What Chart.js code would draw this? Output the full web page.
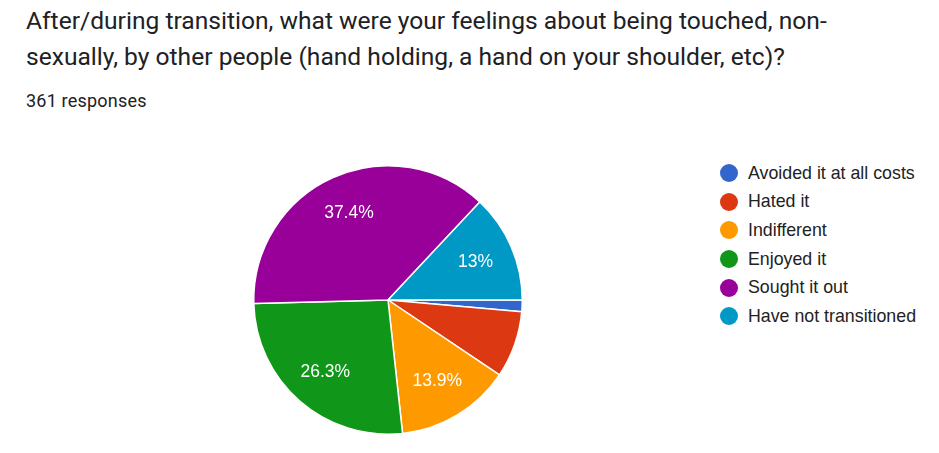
<!DOCTYPE html>
<html>
<head>
<meta charset="utf-8">
<script src="https://cdn.jsdelivr.net/npm/chart.js@4"></script>
<style>
  body { margin: 0; background: #fff; width: 939px; height: 453px; overflow: hidden; position: relative; }
  #title { position: absolute; left: 26px; top: 3px; font-family: Roboto, sans-serif; font-size: 24.6px; line-height: 36px; color: #202124; white-space: nowrap; }
  #sub { position: absolute; left: 26px; top: 90px; font-family: Roboto, sans-serif; font-size: 18px; color: #202124; letter-spacing: 0.2px; }
  #pieBox { position: absolute; left: 248px; top: 160px; width: 280px; height: 280px; }
  #legend { position: absolute; left: 720px; top: 159px; font-family: "Liberation Sans", Arial, sans-serif; font-size: 17.8px; color: #222; }
  .row { height: 28.6px; display: flex; align-items: center; white-space: nowrap; }
  .dot { width: 18px; height: 18px; border-radius: 50%; margin-right: 10px; }
</style>
</head>
<body>
<div id="title">After/during transition, what were your feelings about being touched, non-<br>sexually, by other people (hand holding, a hand on your shoulder, etc)?</div>
<div id="sub">361 responses</div>
<div id="pieBox"><canvas id="feelingsPie"></canvas></div>
<div id="legend"></div>
<script>
const answers = ["Avoided it at all costs", "Hated it", "Indifferent", "Enjoyed it", "Sought it out", "Have not transitioned"];
const responseCounts = [5, 29, 50, 95, 135, 47];
const sliceColors = ["#3366cc", "#dc3912", "#ff9900", "#109618", "#990099", "#0099c6"];

const feelingsCanvas = document.getElementById("feelingsPie");
const legendBox = document.getElementById("legend");

function percentText(value, total) {
    let p = Math.round(value / total * 1000) / 10;
    return (p % 1 === 0 ? p.toFixed(0) : p.toFixed(1)) + "%";
}

// white percentage labels inside the bigger slices
const sliceLabels = {
    id: "sliceLabels",
    afterDatasetsDraw(chart) {
        const ctx = chart.ctx;
        const data = chart.data.datasets[0].data;
        const total = data.reduce((a, b) => a + b, 0);
        ctx.save();
        ctx.fillStyle = "#fff";
        ctx.font = "17.5px 'Liberation Sans', Arial, sans-serif";
        ctx.textAlign = "center";
        ctx.textBaseline = "middle";
        chart.getDatasetMeta(0).data.forEach((arc, i) => {
            if (data[i] / total < 0.1) return;
            const mid = (arc.startAngle + arc.endAngle) / 2;
            const r = arc.outerRadius * 0.71;
            ctx.fillText(percentText(data[i], total), arc.x + Math.cos(mid) * r, arc.y + Math.sin(mid) * r);
        });
        ctx.restore();
    }
};

const feelingsChart = new Chart(feelingsCanvas, {
    type: "pie",
    data: {
        labels: answers,
        datasets: [{
            data: responseCounts,
            backgroundColor: sliceColors,
            borderColor: "#fff",
            borderWidth: 1.5
        }]
    },
    options: {
        responsive: true,
        maintainAspectRatio: false,
        animation: false,
        rotation: 90,
        layout: { padding: 5 },
        events: [],
        plugins: {
            legend: { display: false },
            tooltip: { enabled: false }
        }
    },
    plugins: [sliceLabels]
});

answers.forEach((name, i) => {
    const row = document.createElement("div");
    row.className = "row";
    row.innerHTML = '<span class="dot" style="background:' + sliceColors[i] + '"></span>' + name;
    legendBox.appendChild(row);
});
</script>
</body>
</html>
